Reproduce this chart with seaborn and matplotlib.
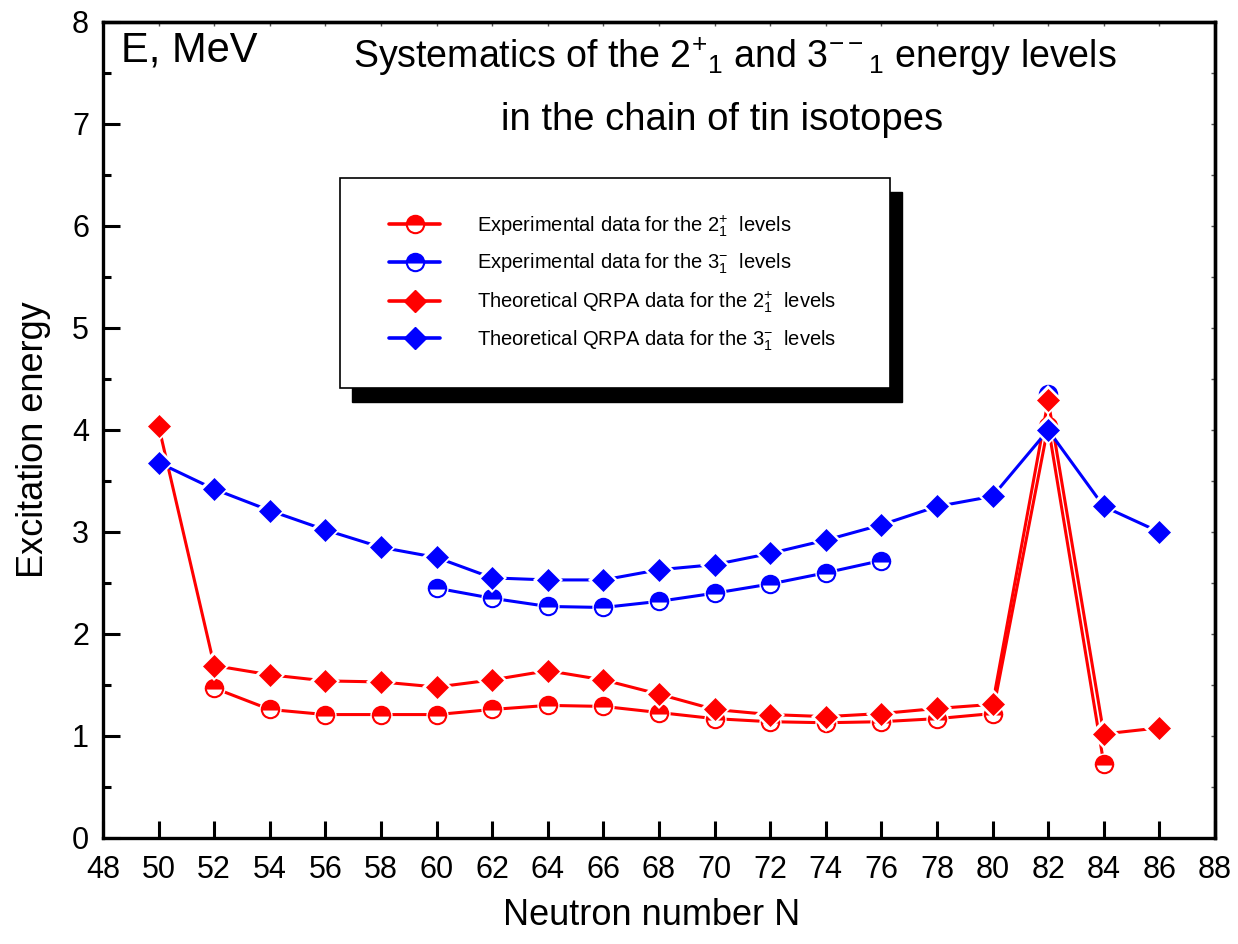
import matplotlib
matplotlib.use("Agg")
import matplotlib.pyplot as plt
import seaborn as sns
import pandas as pd
from matplotlib.lines import Line2D
from matplotlib.patches import Rectangle
from matplotlib.ticker import MultipleLocator

# ---------------- data ----------------
N = [50, 52, 54, 56, 58, 60, 62, 64, 66, 68, 70, 72, 74, 76, 78, 80, 82, 84, 86]
exp_2plus = [None, 1.47, 1.26, 1.21, 1.21, 1.21, 1.26, 1.30, 1.29, 1.23,
             1.17, 1.14, 1.13, 1.14, 1.17, 1.22, 4.04, 0.73, None]
exp_3minus = [None, None, None, None, None, 2.45, 2.35, 2.27, 2.26, 2.32,
              2.40, 2.49, 2.60, 2.72, None, None, 4.35, None, None]
qrpa_2plus = [4.04, 1.69, 1.60, 1.54, 1.53, 1.48, 1.55, 1.64, 1.55, 1.41,
              1.26, 1.21, 1.19, 1.22, 1.27, 1.31, 4.29, 1.02, 1.08]
qrpa_3minus = [3.68, 3.42, 3.21, 3.02, 2.85, 2.75, 2.55, 2.53, 2.53, 2.63,
               2.68, 2.79, 2.92, 3.07, 3.25, 3.35, 4.00, 3.25, 3.00]

labels = [r"Experimental data for the $2_1^{+}$  levels",
          r"Experimental data for the $3_1^{-}$  levels",
          r"Theoretical QRPA data for the $2_1^{+}$  levels",
          r"Theoretical QRPA data for the $3_1^{-}$  levels"]
title1 = r"Systematics of the 2$^{+}$$_{1}$ and 3$^{--}$$_{1}$ energy levels"
title2 = "in the chain of tin isotopes"
xlabel = "Neutron number N"
ylabel = "Excitation energy"
unit_label = "E, MeV"

# ---------------- style ----------------
sns.set_theme(style="ticks")
plt.rcParams["font.family"] = ["Liberation Sans", "DejaVu Sans"]
plt.rcParams["mathtext.fontset"] = "custom"
plt.rcParams["mathtext.rm"] = "Liberation Sans"
plt.rcParams["mathtext.it"] = "Liberation Sans:italic"
plt.rcParams["mathtext.bf"] = "Liberation Sans:bold"
plt.rcParams["mathtext.default"] = "rm"
for k in ["text.color", "axes.labelcolor", "xtick.color", "ytick.color",
          "axes.edgecolor", "xtick.labelcolor", "ytick.labelcolor"]:
    plt.rcParams[k] = "black"

RED = "#ff0000"
BLUE = "#0000ff"
LW = 2.2

fig = plt.figure(figsize=(12.38, 9.44), dpi=100)
ax = fig.add_axes([0.0832, 0.1123, 0.8982, 0.8644])

series = [
    dict(y=exp_2plus, color=RED, marker="o", ms=12.5, circle=True),
    dict(y=exp_3minus, color=BLUE, marker="o", ms=12.5, circle=True),
    dict(y=qrpa_2plus, color=RED, marker="D", ms=11.5, circle=False),
    dict(y=qrpa_3minus, color=BLUE, marker="D", ms=11.5, circle=False),
]


def runs(xs, ys):
    segs, cx, cy = [], [], []
    for x, y in zip(xs, ys):
        if y is None:
            if cx:
                segs.append((cx, cy))
            cx, cy = [], []
        else:
            cx.append(x)
            cy.append(y)
    if cx:
        segs.append((cx, cy))
    return segs


for i, s in enumerate(series):
    z = 3 + i
    for sx, sy in runs(N, s["y"]):
        if len(sx) > 1:
            sns.lineplot(x=sx, y=sy, ax=ax, color=s["color"], lw=LW,
                         estimator=None, sort=False, legend=False, zorder=z)
    df = pd.DataFrame({"N": N, "E": s["y"]}).dropna()
    # white halo around markers (gap between line and marker)
    sns.lineplot(data=df, x="N", y="E", ax=ax, linestyle="none",
                 marker=s["marker"], ms=s["ms"] + 3.5, color="white",
                 markerfacecolor="white", markeredgecolor="white",
                 markeredgewidth=0, estimator=None, legend=False, zorder=z + 0.3)
    if s["circle"]:
        sns.lineplot(data=df, x="N", y="E", ax=ax, linestyle="none",
                     marker="o", ms=s["ms"], color=s["color"],
                     markerfacecolor=s["color"], markerfacecoloralt="white",
                     fillstyle="top", markeredgecolor=s["color"],
                     markeredgewidth=1.5, estimator=None, legend=False,
                     zorder=z + 0.6)
    else:
        sns.lineplot(data=df, x="N", y="E", ax=ax, linestyle="none",
                     marker="D", ms=s["ms"], color=s["color"],
                     markerfacecolor=s["color"], markeredgecolor=s["color"],
                     markeredgewidth=0.5, estimator=None, legend=False,
                     zorder=z + 0.6)

# ---------------- axes ----------------
ax.set_xlim(48, 88)
ax.set_ylim(0, 8)
ax.xaxis.set_major_locator(MultipleLocator(2))
ax.yaxis.set_major_locator(MultipleLocator(1))
ax.yaxis.set_minor_locator(MultipleLocator(0.5))
ax.tick_params(axis="both", which="major", direction="in", length=12,
               width=2.2, labelsize=22, color="black", labelcolor="black",
               top=False, right=False)
ax.tick_params(axis="y", which="minor", direction="in", length=6, width=2.2,
               right=False)
ax.tick_params(axis="x", which="major", pad=12)
ax.tick_params(axis="y", which="major", pad=10)
for sp in ax.spines.values():
    sp.set_linewidth(2.4)
    sp.set_color("black")
    sp.set_visible(True)

sec_x = ax.secondary_xaxis("top")
sec_x.xaxis.set_major_locator(MultipleLocator(2))
sec_x.tick_params(direction="in", length=3, width=1, labeltop=False, color="#555555")
sec_x.spines["top"].set_linewidth(2.4)
sec_y = ax.secondary_yaxis("right")
sec_y.yaxis.set_major_locator(MultipleLocator(0.5))
sec_y.tick_params(direction="in", length=3, width=1, labelright=False, color="#555555")
sec_y.spines["right"].set_linewidth(2.4)

ax.set_xlabel(xlabel, fontsize=26)
ax.set_ylabel(ylabel, fontsize=26)
ax.xaxis.set_label_coords(0.493, -0.073)
ax.yaxis.set_label_coords(-0.0466, 0.488)

ax.text(0.016, 0.951, unit_label, transform=ax.transAxes, fontsize=30,
        ha="left", va="baseline")
ax.text(0.5685, 0.9436, title1, transform=ax.transAxes, fontsize=27,
        ha="center", va="baseline")
ax.text(0.557, 0.8676, title2, transform=ax.transAxes, fontsize=27.5,
        ha="center", va="baseline")

# ---------------- legend with shadow box ----------------
bx0, by0, bw, bh = 0.2131, 0.5515, 0.4946, 0.2573
sx = 12 / 1112
sy = 14 / 816
ax.add_patch(Rectangle((bx0 + sx, by0 - sy), bw, bh, transform=ax.transAxes,
                       facecolor="black", edgecolor="black", zorder=20,
                       clip_on=False))
ax.add_patch(Rectangle((bx0, by0), bw, bh, transform=ax.transAxes,
                       facecolor="white", edgecolor="black", lw=1.2, zorder=21,
                       clip_on=False))

handles = []
for s in series:
    if s["circle"]:
        h = Line2D([], [], color=s["color"], lw=2.6, marker="o", ms=s["ms"],
                   markerfacecolor=s["color"], markerfacecoloralt="white",
                   fillstyle="top", markeredgecolor=s["color"],
                   markeredgewidth=1.5)
    else:
        h = Line2D([], [], color=s["color"], lw=2.6, marker="D", ms=s["ms"],
                   markerfacecolor=s["color"], markeredgecolor=s["color"])
    handles.append(h)

leg = ax.legend(handles, labels, loc="upper left",
                bbox_to_anchor=(0.2572, 0.766), frameon=False, fontsize=14.5,
                handlelength=2.54, handletextpad=1.84, labelspacing=0.66,
                borderpad=0, borderaxespad=0)
leg.set_zorder(22)

fig.savefig("out.png", dpi=100)
